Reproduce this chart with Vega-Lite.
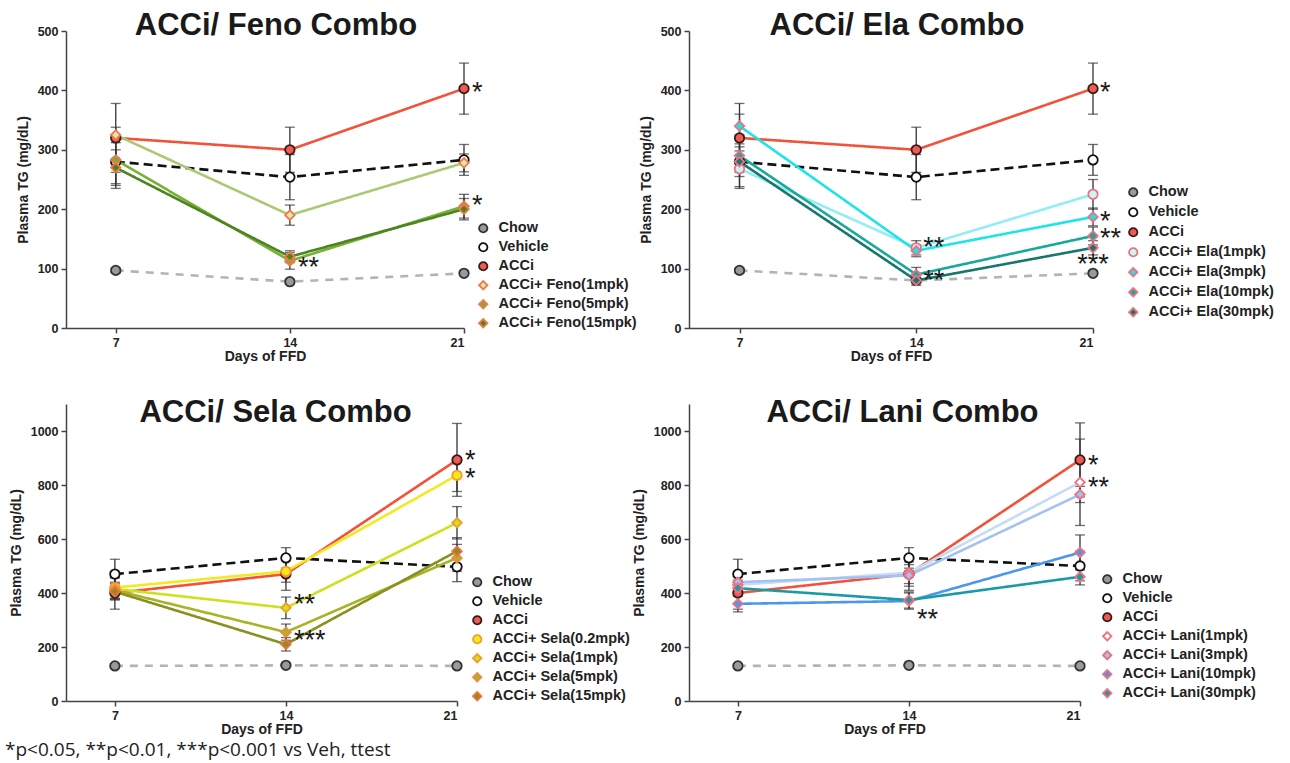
{
  "$schema": "https://vega.github.io/schema/vega-lite/v6.json",
  "padding": {"left": 5, "top": 10, "right": 5, "bottom": 5},
  "background": "white",
  "title": {"text": "*p<0.05, **p<0.01, ***p<0.001 vs Veh, ttest", "orient": "bottom", "anchor": "start", "frame": "group", "dx": -61, "offset": 4, "fontSize": 19, "fontWeight": "normal", "font": "Open Sans", "color": "#222222"},
  "datasets": {
    "pts": [
      {"p":"Feno","s":"Chow","d":7,"v":97,"e":4},
      {"p":"Feno","s":"Chow","d":14,"v":78,"e":4},
      {"p":"Feno","s":"Chow","d":21,"v":92,"e":4},
      {"p":"Feno","s":"Vehicle","d":7,"v":280,"e":45},
      {"p":"Feno","s":"Vehicle","d":14,"v":254,"e":38},
      {"p":"Feno","s":"Vehicle","d":21,"v":283,"e":26},
      {"p":"Feno","s":"ACCi","d":7,"v":320,"e":58},
      {"p":"Feno","s":"ACCi","d":14,"v":300,"e":38},
      {"p":"Feno","s":"ACCi","d":21,"v":403,"e":43},
      {"p":"Feno","s":"ACCi+ Feno(1mpk)","d":7,"v":325,"e":13},
      {"p":"Feno","s":"ACCi+ Feno(1mpk)","d":14,"v":190,"e":17},
      {"p":"Feno","s":"ACCi+ Feno(1mpk)","d":21,"v":278,"e":15},
      {"p":"Feno","s":"ACCi+ Feno(5mpk)","d":7,"v":283,"e":40},
      {"p":"Feno","s":"ACCi+ Feno(5mpk)","d":14,"v":113,"e":14},
      {"p":"Feno","s":"ACCi+ Feno(5mpk)","d":21,"v":205,"e":20},
      {"p":"Feno","s":"ACCi+ Feno(15mpk)","d":7,"v":270,"e":30},
      {"p":"Feno","s":"ACCi+ Feno(15mpk)","d":14,"v":120,"e":10},
      {"p":"Feno","s":"ACCi+ Feno(15mpk)","d":21,"v":200,"e":18},

      {"p":"Ela","s":"Chow","d":7,"v":97,"e":4},
      {"p":"Ela","s":"Chow","d":14,"v":80,"e":4},
      {"p":"Ela","s":"Chow","d":21,"v":92,"e":4},
      {"p":"Ela","s":"Vehicle","d":7,"v":280,"e":45},
      {"p":"Ela","s":"Vehicle","d":14,"v":254,"e":38},
      {"p":"Ela","s":"Vehicle","d":21,"v":283,"e":26},
      {"p":"Ela","s":"ACCi","d":7,"v":320,"e":58},
      {"p":"Ela","s":"ACCi","d":14,"v":300,"e":38},
      {"p":"Ela","s":"ACCi","d":21,"v":403,"e":43},
      {"p":"Ela","s":"ACCi+ Ela(1mpk)","d":7,"v":268,"e":30},
      {"p":"Ela","s":"ACCi+ Ela(1mpk)","d":14,"v":135,"e":12},
      {"p":"Ela","s":"ACCi+ Ela(1mpk)","d":21,"v":225,"e":25},
      {"p":"Ela","s":"ACCi+ Ela(3mpk)","d":7,"v":340,"e":20},
      {"p":"Ela","s":"ACCi+ Ela(3mpk)","d":14,"v":130,"e":10},
      {"p":"Ela","s":"ACCi+ Ela(3mpk)","d":21,"v":187,"e":15},
      {"p":"Ela","s":"ACCi+ Ela(10mpk)","d":7,"v":290,"e":20},
      {"p":"Ela","s":"ACCi+ Ela(10mpk)","d":14,"v":90,"e":12},
      {"p":"Ela","s":"ACCi+ Ela(10mpk)","d":21,"v":155,"e":15},
      {"p":"Ela","s":"ACCi+ Ela(30mpk)","d":7,"v":280,"e":25},
      {"p":"Ela","s":"ACCi+ Ela(30mpk)","d":14,"v":80,"e":8},
      {"p":"Ela","s":"ACCi+ Ela(30mpk)","d":21,"v":135,"e":12},

      {"p":"Sela","s":"Chow","d":7,"v":130,"e":8},
      {"p":"Sela","s":"Chow","d":14,"v":132,"e":8},
      {"p":"Sela","s":"Chow","d":21,"v":130,"e":8},
      {"p":"Sela","s":"Vehicle","d":7,"v":470,"e":55},
      {"p":"Sela","s":"Vehicle","d":14,"v":530,"e":38},
      {"p":"Sela","s":"Vehicle","d":21,"v":497,"e":55},
      {"p":"Sela","s":"ACCi","d":7,"v":400,"e":60},
      {"p":"Sela","s":"ACCi","d":14,"v":470,"e":60},
      {"p":"Sela","s":"ACCi","d":21,"v":893,"e":135},
      {"p":"Sela","s":"ACCi+ Sela(0.2mpk)","d":7,"v":420,"e":40},
      {"p":"Sela","s":"ACCi+ Sela(0.2mpk)","d":14,"v":480,"e":40},
      {"p":"Sela","s":"ACCi+ Sela(0.2mpk)","d":21,"v":836,"e":60},
      {"p":"Sela","s":"ACCi+ Sela(1mpk)","d":7,"v":415,"e":40},
      {"p":"Sela","s":"ACCi+ Sela(1mpk)","d":14,"v":345,"e":40},
      {"p":"Sela","s":"ACCi+ Sela(1mpk)","d":21,"v":660,"e":60},
      {"p":"Sela","s":"ACCi+ Sela(5mpk)","d":7,"v":410,"e":30},
      {"p":"Sela","s":"ACCi+ Sela(5mpk)","d":14,"v":255,"e":30},
      {"p":"Sela","s":"ACCi+ Sela(5mpk)","d":21,"v":530,"e":50},
      {"p":"Sela","s":"ACCi+ Sela(15mpk)","d":7,"v":405,"e":30},
      {"p":"Sela","s":"ACCi+ Sela(15mpk)","d":14,"v":210,"e":25},
      {"p":"Sela","s":"ACCi+ Sela(15mpk)","d":21,"v":555,"e":50},

      {"p":"Lani","s":"Chow","d":7,"v":130,"e":8},
      {"p":"Lani","s":"Chow","d":14,"v":132,"e":8},
      {"p":"Lani","s":"Chow","d":21,"v":130,"e":8},
      {"p":"Lani","s":"Vehicle","d":7,"v":470,"e":55},
      {"p":"Lani","s":"Vehicle","d":14,"v":530,"e":38},
      {"p":"Lani","s":"Vehicle","d":21,"v":500,"e":55},
      {"p":"Lani","s":"ACCi","d":7,"v":400,"e":60},
      {"p":"Lani","s":"ACCi","d":14,"v":470,"e":60},
      {"p":"Lani","s":"ACCi","d":21,"v":893,"e":137},
      {"p":"Lani","s":"ACCi+ Lani(1mpk)","d":7,"v":430,"e":30},
      {"p":"Lani","s":"ACCi+ Lani(1mpk)","d":14,"v":475,"e":40},
      {"p":"Lani","s":"ACCi+ Lani(1mpk)","d":21,"v":810,"e":160},
      {"p":"Lani","s":"ACCi+ Lani(3mpk)","d":7,"v":440,"e":30},
      {"p":"Lani","s":"ACCi+ Lani(3mpk)","d":14,"v":465,"e":40},
      {"p":"Lani","s":"ACCi+ Lani(3mpk)","d":21,"v":765,"e":30},
      {"p":"Lani","s":"ACCi+ Lani(10mpk)","d":7,"v":360,"e":30},
      {"p":"Lani","s":"ACCi+ Lani(10mpk)","d":14,"v":370,"e":30},
      {"p":"Lani","s":"ACCi+ Lani(10mpk)","d":21,"v":550,"e":65},
      {"p":"Lani","s":"ACCi+ Lani(30mpk)","d":7,"v":418,"e":30},
      {"p":"Lani","s":"ACCi+ Lani(30mpk)","d":14,"v":374,"e":30},
      {"p":"Lani","s":"ACCi+ Lani(30mpk)","d":21,"v":460,"e":30}
    ],
    "stars": [
      {"p":"Feno","d":21,"v":403,"t":"*"},
      {"p":"Feno","d":21,"v":212,"t":"*"},
      {"p":"Feno","d":14,"v":108,"t":"**"},
      {"p":"Ela","d":21,"v":403,"t":"*"},
      {"p":"Ela","d":21,"v":186,"t":"*"},
      {"p":"Ela","d":21,"v":156,"t":"**"},
      {"p":"Ela","d":21,"v":113,"t":"***"},
      {"p":"Ela","d":14,"v":142,"t":"**"},
      {"p":"Ela","d":14,"v":86,"t":"**"},
      {"p":"Sela","d":21,"v":903,"t":"*"},
      {"p":"Sela","d":21,"v":836,"t":"*"},
      {"p":"Sela","d":14,"v":372,"t":"**"},
      {"p":"Sela","d":14,"v":238,"t":"***"},
      {"p":"Lani","d":21,"v":885,"t":"*"},
      {"p":"Lani","d":21,"v":803,"t":"**"},
      {"p":"Lani","d":14,"v":315,"t":"**"}
    ]
  },
  "bounds": "flush",
  "columns": 2,
  "spacing": {"row": 76, "column": 225},
  "resolve": {"scale": {"color": "independent", "fill": "independent", "stroke": "independent", "shape": "independent", "strokeDash": "independent", "x": "independent", "y": "independent"}},
  "concat": [
        {
          "width": 398, "height": 297,
          "title": {"text": "ACCi/ Feno Combo", "dx": 11, "offset": -17},
          "layer": [
            {"data": {"name": "pts"}, "transform": [{"filter": "datum.p == 'Feno'"}],
             "mark": {"type": "errorbar", "ticks": {"size": 10}, "color": "#333333", "thickness": 1.3},
             "encoding": {
               "x": {"field": "d", "type": "quantitative", "scale": {"domain": [5, 21], "nice": false}, "axis": {"values": [7, 14, 21], "title": "Days of FFD"}},
               "y": {"field": "v", "type": "quantitative", "scale": {"domain": [0, 500], "nice": false}, "axis": {"values": [0, 100, 200, 300, 400, 500], "format": "d", "title": "Plasma TG (mg/dL)"}},
               "yError": {"field": "e"}}},
            {"data": {"name": "pts"}, "transform": [{"filter": "datum.p == 'Feno'"}],
             "mark": {"type": "line", "strokeWidth": 2.6},
             "encoding": {
               "x": {"field": "d", "type": "quantitative"},
               "y": {"field": "v", "type": "quantitative"},
               "color": {"field": "s", "type": "nominal", "legend": null, "scale": {"domain": ["ACCi+ Feno(15mpk)", "ACCi+ Feno(5mpk)", "ACCi+ Feno(1mpk)", "ACCi", "Vehicle", "Chow"], "range": ["#4c8420", "#78b034", "#acc872", "#f4513a", "#111111", "#b4b4b4"]}},
               "strokeDash": {"field": "s", "type": "nominal", "legend": null, "scale": {"domain": ["ACCi+ Feno(15mpk)", "ACCi+ Feno(5mpk)", "ACCi+ Feno(1mpk)", "ACCi", "Vehicle", "Chow"], "range": [[1, 0], [1, 0], [1, 0], [1, 0], [9, 5], [8, 7]]}}}},
            {"data": {"name": "pts"}, "transform": [{"filter": "datum.p == 'Feno'"}],
             "mark": {"type": "point", "filled": true, "opacity": 1, "size": 90, "strokeWidth": 1.8},
             "encoding": {
               "x": {"field": "d", "type": "quantitative"},
               "y": {"field": "v", "type": "quantitative"},
               "fill": {"field": "s", "type": "nominal", "scale": {"domain": ["Chow", "Vehicle", "ACCi", "ACCi+ Feno(1mpk)", "ACCi+ Feno(5mpk)", "ACCi+ Feno(15mpk)"], "range": ["#9a9a9a", "#ffffff", "#ef5a52", "#d8eab0", "#78b034", "#4c8420"]}, "legend": {"title": null, "orient": "none", "legendX": 410, "legendY": 190, "rowPadding": 2}},
               "stroke": {"field": "s", "type": "nominal", "scale": {"domain": ["Chow", "Vehicle", "ACCi", "ACCi+ Feno(1mpk)", "ACCi+ Feno(5mpk)", "ACCi+ Feno(15mpk)"], "range": ["#333333", "#111111", "#3a1a1a", "#f2784a", "#f2784a", "#f2784a"]}, "legend": {"title": null, "orient": "none", "legendX": 410, "legendY": 190, "rowPadding": 2}},
               "shape": {"field": "s", "type": "nominal", "scale": {"domain": ["Chow", "Vehicle", "ACCi", "ACCi+ Feno(1mpk)", "ACCi+ Feno(5mpk)", "ACCi+ Feno(15mpk)"], "range": ["circle", "circle", "circle", "diamond", "diamond", "diamond"]}, "legend": {"title": null, "orient": "none", "legendX": 410, "legendY": 190, "rowPadding": 2}}}},
            {"data": {"name": "stars"}, "transform": [{"filter": "datum.p == 'Feno'"}],
             "mark": {"type": "text", "align": "left", "dx": 8, "dy": 4, "fontSize": 27, "color": "#1a1a1a"},
             "encoding": {"x": {"field": "d", "type": "quantitative"}, "y": {"field": "v", "type": "quantitative"}, "text": {"field": "t"}}}
          ]
        },
        {
          "width": 404, "height": 297,
          "title": {"text": "ACCi/ Ela Combo", "dx": 6, "offset": -17},
          "layer": [
            {"data": {"name": "pts"}, "transform": [{"filter": "datum.p == 'Ela'"}],
             "mark": {"type": "errorbar", "ticks": {"size": 10}, "color": "#333333", "thickness": 1.3},
             "encoding": {
               "x": {"field": "d", "type": "quantitative", "scale": {"domain": [5, 21], "nice": false}, "axis": {"values": [7, 14, 21], "title": "Days of FFD"}},
               "y": {"field": "v", "type": "quantitative", "scale": {"domain": [0, 500], "nice": false}, "axis": {"values": [0, 100, 200, 300, 400, 500], "format": "d", "title": "Plasma TG (mg/dL)"}},
               "yError": {"field": "e"}}},
            {"data": {"name": "pts"}, "transform": [{"filter": "datum.p == 'Ela'"}],
             "mark": {"type": "line", "strokeWidth": 2.6},
             "encoding": {
               "x": {"field": "d", "type": "quantitative"},
               "y": {"field": "v", "type": "quantitative"},
               "color": {"field": "s", "type": "nominal", "legend": null, "scale": {"domain": ["ACCi+ Ela(30mpk)", "ACCi+ Ela(10mpk)", "ACCi+ Ela(3mpk)", "ACCi+ Ela(1mpk)", "ACCi", "Vehicle", "Chow"], "range": ["#16786a", "#18a89c", "#1ee4ea", "#92eef2", "#f4513a", "#111111", "#b4b4b4"]}},
               "strokeDash": {"field": "s", "type": "nominal", "legend": null, "scale": {"domain": ["ACCi+ Ela(30mpk)", "ACCi+ Ela(10mpk)", "ACCi+ Ela(3mpk)", "ACCi+ Ela(1mpk)", "ACCi", "Vehicle", "Chow"], "range": [[1, 0], [1, 0], [1, 0], [1, 0], [1, 0], [9, 5], [8, 7]]}}}},
            {"data": {"name": "pts"}, "transform": [{"filter": "datum.p == 'Ela'"}],
             "mark": {"type": "point", "filled": true, "opacity": 1, "size": 90, "strokeWidth": 1.8},
             "encoding": {
               "x": {"field": "d", "type": "quantitative"},
               "y": {"field": "v", "type": "quantitative"},
               "fill": {"field": "s", "type": "nominal", "scale": {"domain": ["Chow", "Vehicle", "ACCi", "ACCi+ Ela(1mpk)", "ACCi+ Ela(3mpk)", "ACCi+ Ela(10mpk)", "ACCi+ Ela(30mpk)"], "range": ["#9a9a9a", "#ffffff", "#ef5a52", "#c8f6f8", "#1ee4ea", "#18a89c", "#16786a"]}, "legend": {"title": null, "orient": "none", "legendX": 437, "legendY": 154, "rowPadding": 3}},
               "stroke": {"field": "s", "type": "nominal", "scale": {"domain": ["Chow", "Vehicle", "ACCi", "ACCi+ Ela(1mpk)", "ACCi+ Ela(3mpk)", "ACCi+ Ela(10mpk)", "ACCi+ Ela(30mpk)"], "range": ["#333333", "#111111", "#3a1a1a", "#f07080", "#f07080", "#f07080", "#f07080"]}, "legend": {"title": null, "orient": "none", "legendX": 437, "legendY": 154, "rowPadding": 3}},
               "shape": {"field": "s", "type": "nominal", "scale": {"domain": ["Chow", "Vehicle", "ACCi", "ACCi+ Ela(1mpk)", "ACCi+ Ela(3mpk)", "ACCi+ Ela(10mpk)", "ACCi+ Ela(30mpk)"], "range": ["circle", "circle", "circle", "circle", "diamond", "diamond", "diamond"]}, "legend": {"title": null, "orient": "none", "legendX": 437, "legendY": 154, "rowPadding": 3}}}},
            {"data": {"name": "stars"}, "transform": [{"filter": "datum.p == 'Ela' && datum.t != '***'"}],
             "mark": {"type": "text", "align": "left", "dx": 7, "dy": 4, "fontSize": 27, "color": "#1a1a1a"},
             "encoding": {"x": {"field": "d", "type": "quantitative"}, "y": {"field": "v", "type": "quantitative"}, "text": {"field": "t"}}},
            {"data": {"name": "stars"}, "transform": [{"filter": "datum.p == 'Ela' && datum.t == '***'"}],
             "mark": {"type": "text", "align": "center", "dx": 0, "dy": 4, "fontSize": 27, "color": "#1a1a1a"},
             "encoding": {"x": {"field": "d", "type": "quantitative"}, "y": {"field": "v", "type": "quantitative"}, "text": {"field": "t"}}}
          ]
        },
        {
          "width": 391, "height": 297,
          "title": {"text": "ACCi/ Sela Combo", "dx": 14, "offset": -25},
          "layer": [
            {"data": {"name": "pts"}, "transform": [{"filter": "datum.p == 'Sela'"}],
             "mark": {"type": "errorbar", "ticks": {"size": 10}, "color": "#333333", "thickness": 1.3},
             "encoding": {
               "x": {"field": "d", "type": "quantitative", "scale": {"domain": [5, 21], "nice": false}, "axis": {"values": [7, 14, 21], "title": "Days of FFD"}},
               "y": {"field": "v", "type": "quantitative", "scale": {"domain": [0, 1100], "nice": false}, "axis": {"values": [0, 200, 400, 600, 800, 1000], "format": "d", "title": "Plasma TG (mg/dL)"}},
               "yError": {"field": "e"}}},
            {"data": {"name": "pts"}, "transform": [{"filter": "datum.p == 'Sela'"}],
             "mark": {"type": "line", "strokeWidth": 2.6},
             "encoding": {
               "x": {"field": "d", "type": "quantitative"},
               "y": {"field": "v", "type": "quantitative"},
               "color": {"field": "s", "type": "nominal", "legend": null, "scale": {"domain": ["ACCi+ Sela(15mpk)", "ACCi+ Sela(5mpk)", "ACCi+ Sela(1mpk)", "ACCi+ Sela(0.2mpk)", "ACCi", "Vehicle", "Chow"], "range": ["#8a8f1f", "#a7b424", "#cde21f", "#f2ea1e", "#f4513a", "#111111", "#b4b4b4"]}},
               "strokeDash": {"field": "s", "type": "nominal", "legend": null, "scale": {"domain": ["ACCi+ Sela(15mpk)", "ACCi+ Sela(5mpk)", "ACCi+ Sela(1mpk)", "ACCi+ Sela(0.2mpk)", "ACCi", "Vehicle", "Chow"], "range": [[1, 0], [1, 0], [1, 0], [1, 0], [1, 0], [9, 5], [8, 7]]}}}},
            {"data": {"name": "pts"}, "transform": [{"filter": "datum.p == 'Sela'"}],
             "mark": {"type": "point", "filled": true, "opacity": 1, "size": 90, "strokeWidth": 1.8},
             "encoding": {
               "x": {"field": "d", "type": "quantitative"},
               "y": {"field": "v", "type": "quantitative"},
               "fill": {"field": "s", "type": "nominal", "scale": {"domain": ["Chow", "Vehicle", "ACCi", "ACCi+ Sela(0.2mpk)", "ACCi+ Sela(1mpk)", "ACCi+ Sela(5mpk)", "ACCi+ Sela(15mpk)"], "range": ["#9a9a9a", "#ffffff", "#ef5a52", "#f2ea1e", "#cde21f", "#a7b424", "#8a8f1f"]}, "legend": {"title": null, "orient": "none", "legendX": 404, "legendY": 171, "rowPadding": 2}},
               "stroke": {"field": "s", "type": "nominal", "scale": {"domain": ["Chow", "Vehicle", "ACCi", "ACCi+ Sela(0.2mpk)", "ACCi+ Sela(1mpk)", "ACCi+ Sela(5mpk)", "ACCi+ Sela(15mpk)"], "range": ["#333333", "#111111", "#3a1a1a", "#f59a2a", "#f59a2a", "#f08a40", "#f07040"]}, "legend": {"title": null, "orient": "none", "legendX": 404, "legendY": 171, "rowPadding": 2}},
               "shape": {"field": "s", "type": "nominal", "scale": {"domain": ["Chow", "Vehicle", "ACCi", "ACCi+ Sela(0.2mpk)", "ACCi+ Sela(1mpk)", "ACCi+ Sela(5mpk)", "ACCi+ Sela(15mpk)"], "range": ["circle", "circle", "circle", "circle", "diamond", "diamond", "diamond"]}, "legend": {"title": null, "orient": "none", "legendX": 404, "legendY": 171, "rowPadding": 2}}}},
            {"data": {"name": "stars"}, "transform": [{"filter": "datum.p == 'Sela'"}],
             "mark": {"type": "text", "align": "left", "dx": 8, "dy": 4, "fontSize": 27, "color": "#1a1a1a"},
             "encoding": {"x": {"field": "d", "type": "quantitative"}, "y": {"field": "v", "type": "quantitative"}, "text": {"field": "t"}}}
          ]
        },
        {
          "width": 391, "height": 297,
          "title": {"text": "ACCi/ Lani Combo", "dx": 18, "offset": -25},
          "layer": [
            {"data": {"name": "pts"}, "transform": [{"filter": "datum.p == 'Lani'"}],
             "mark": {"type": "errorbar", "ticks": {"size": 10}, "color": "#333333", "thickness": 1.3},
             "encoding": {
               "x": {"field": "d", "type": "quantitative", "scale": {"domain": [5, 21], "nice": false}, "axis": {"values": [7, 14, 21], "title": "Days of FFD"}},
               "y": {"field": "v", "type": "quantitative", "scale": {"domain": [0, 1100], "nice": false}, "axis": {"values": [0, 200, 400, 600, 800, 1000], "format": "d", "title": "Plasma TG (mg/dL)"}},
               "yError": {"field": "e"}}},
            {"data": {"name": "pts"}, "transform": [{"filter": "datum.p == 'Lani'"}],
             "mark": {"type": "line", "strokeWidth": 2.6},
             "encoding": {
               "x": {"field": "d", "type": "quantitative"},
               "y": {"field": "v", "type": "quantitative"},
               "color": {"field": "s", "type": "nominal", "legend": null, "scale": {"domain": ["ACCi+ Lani(30mpk)", "ACCi+ Lani(10mpk)", "ACCi+ Lani(3mpk)", "ACCi+ Lani(1mpk)", "ACCi", "Vehicle", "Chow"], "range": ["#1a9aa2", "#4a98ea", "#a4c2f0", "#c6dcf6", "#f4513a", "#111111", "#b4b4b4"]}},
               "strokeDash": {"field": "s", "type": "nominal", "legend": null, "scale": {"domain": ["ACCi+ Lani(30mpk)", "ACCi+ Lani(10mpk)", "ACCi+ Lani(3mpk)", "ACCi+ Lani(1mpk)", "ACCi", "Vehicle", "Chow"], "range": [[1, 0], [1, 0], [1, 0], [1, 0], [1, 0], [9, 5], [8, 7]]}}}},
            {"data": {"name": "pts"}, "transform": [{"filter": "datum.p == 'Lani'"}],
             "mark": {"type": "point", "filled": true, "opacity": 1, "size": 90, "strokeWidth": 1.8},
             "encoding": {
               "x": {"field": "d", "type": "quantitative"},
               "y": {"field": "v", "type": "quantitative"},
               "fill": {"field": "s", "type": "nominal", "scale": {"domain": ["Chow", "Vehicle", "ACCi", "ACCi+ Lani(1mpk)", "ACCi+ Lani(3mpk)", "ACCi+ Lani(10mpk)", "ACCi+ Lani(30mpk)"], "range": ["#9a9a9a", "#ffffff", "#ef5a52", "#ffffff", "#a4c2f0", "#4a98ea", "#1a9aa2"]}, "legend": {"title": null, "orient": "none", "legendX": 411, "legendY": 168, "rowPadding": 2}},
               "stroke": {"field": "s", "type": "nominal", "scale": {"domain": ["Chow", "Vehicle", "ACCi", "ACCi+ Lani(1mpk)", "ACCi+ Lani(3mpk)", "ACCi+ Lani(10mpk)", "ACCi+ Lani(30mpk)"], "range": ["#333333", "#111111", "#3a1a1a", "#f07080", "#f07080", "#f07080", "#f07080"]}, "legend": {"title": null, "orient": "none", "legendX": 411, "legendY": 168, "rowPadding": 2}},
               "shape": {"field": "s", "type": "nominal", "scale": {"domain": ["Chow", "Vehicle", "ACCi", "ACCi+ Lani(1mpk)", "ACCi+ Lani(3mpk)", "ACCi+ Lani(10mpk)", "ACCi+ Lani(30mpk)"], "range": ["circle", "circle", "circle", "diamond", "diamond", "diamond", "diamond"]}, "legend": {"title": null, "orient": "none", "legendX": 411, "legendY": 168, "rowPadding": 2}}}},
            {"data": {"name": "stars"}, "transform": [{"filter": "datum.p == 'Lani'"}],
             "mark": {"type": "text", "align": "left", "dx": 8, "dy": 4, "fontSize": 27, "color": "#1a1a1a"},
             "encoding": {"x": {"field": "d", "type": "quantitative"}, "y": {"field": "v", "type": "quantitative"}, "text": {"field": "t"}}}
          ]
        }
  ],
  "config": {
    "font": "Liberation Sans",
    "view": {"stroke": null},
    "axis": {"grid": false, "domainColor": "#444444", "domainWidth": 1.5, "tickColor": "#444444", "tickWidth": 1.5, "tickSize": 5, "labelFontWeight": "bold", "labelFontSize": 12.5, "labelColor": "#222222", "titleFontSize": 14, "titleFontWeight": "bold", "titleColor": "#222222", "labelPadding": 3, "labelFont": "Liberation Sans", "titleFont": "Liberation Sans"},
    "axisX": {"titlePadding": 1},
    "axisY": {"titlePadding": 7},
    "title": {"fontSize": 31, "fontWeight": "bold", "color": "#1a1a1a", "font": "Liberation Sans"},
    "legend": {"labelFont": "Liberation Sans", "labelFontSize": 14.5, "labelFontWeight": "bold", "labelColor": "#222222", "symbolSize": 70, "symbolStrokeWidth": 1.8, "padding": 0, "labelOffset": 8}
  }
}
